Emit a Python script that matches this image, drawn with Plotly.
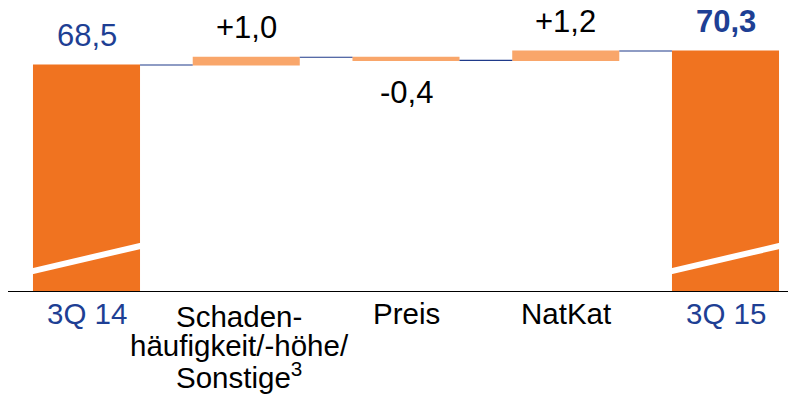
'''
    Waterfall chart: bridge from 3Q 14 to 3Q 15.
'''
import plotly.graph_objects as go
import numpy as np

categories = ["3Q 14", "Schaden-<br>häufigkeit/-höhe/<br>Sonstige<sup>3</sup>",
              "Preis", "NatKat", "3Q 15"]
values = [68.5, 1.0, -0.4, 1.2, 70.3]
measures = ["absolute", "relative", "relative", "relative", "total"]

FONT = "Liberation Sans, Arial, sans-serif"
DARK_ORANGE = "#F07320"
LIGHT_ORANGE = "#F9A66A"
BLUE = "#1E3F94"


def fmt(v, signed):
    s = f"{v:+.1f}" if signed else f"{v:.1f}"
    return s.replace(".", ",")


fig = go.Figure(go.Waterfall(
    x=list(range(len(categories))),
    y=values,
    measure=measures,
    width=0.67,
    totals=dict(marker=dict(color=DARK_ORANGE)),
    increasing=dict(marker=dict(color=LIGHT_ORANGE)),
    decreasing=dict(marker=dict(color=LIGHT_ORANGE)),
    connector=dict(mode="between", line=dict(color="#1F3A8A", width=1.2)),
    hoverinfo="skip",
))

# Cumulative level after every step
levels = []
run = 0
for v, m in zip(values, measures):
    if m == "absolute":
        run = v
    elif m == "relative":
        run += v
    levels.append(run)
levels = np.round(levels, 2)

annotations = []
for i, (v, m) in enumerate(zip(values, measures)):
    total = m != "relative"
    text = fmt(v, not total)
    if m == "total":
        text = f"<b>{text}</b>"
    if v >= 0 or total:
        y, shift = levels[i], 30
    else:
        y, shift = levels[i], -32
    annotations.append(dict(
        x=i, y=y, xref="x", yref="y", text=text, showarrow=False,
        yanchor="middle", yshift=shift,
        font=dict(family=FONT, size=31, color=BLUE if total else "black"),
    ))

    # Category labels, one annotation per line
    lines = categories[i].split("<br>")
    xshift = -7 if len(lines) > 1 else 0
    first = -22 if len(lines) == 1 else -25
    for k, line in enumerate(lines):
        annotations.append(dict(
            x=i, y=0, xref="x", yref="paper", text=line, showarrow=False,
            yanchor="middle", yshift=first - 29.5 * k, xshift=xshift,
            font=dict(family=FONT, size=29.5, color=BLUE if total else "black"),
        ))

# Broken axis marks on the total bars
shapes = []
for i, m in enumerate(measures):
    if m != "relative":
        shapes.append(dict(
            type="line", xref="x", yref="y",
            x0=i - 0.35, x1=i + 0.35, y0=41.95, y1=45.30,
            line=dict(color="white", width=6),
        ))

fig.update_layout(
    width=796, height=401,
    margin=dict(l=0, r=0, t=0, b=118),
    plot_bgcolor="white", paper_bgcolor="white",
    showlegend=False,
    xaxis=dict(range=[-0.4914, 4.4914], showticklabels=False, showgrid=False,
               zeroline=False, showline=True, linecolor="black", linewidth=1,
               ticks=""),
    yaxis=dict(range=[39.45, 75.83], visible=False, showgrid=False),
    annotations=annotations,
    shapes=shapes,
)

fig.write_html("out.html")
